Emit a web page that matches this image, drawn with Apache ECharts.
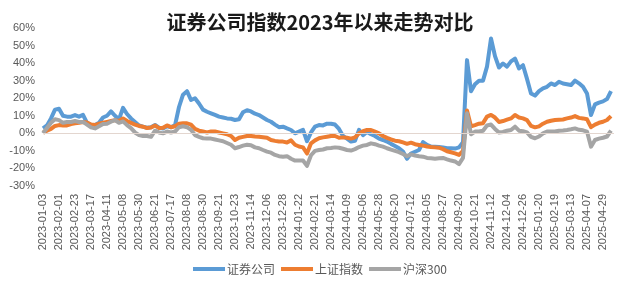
<!DOCTYPE html>
<html>
<head>
<meta charset="utf-8">
<script src="https://cdn.jsdelivr.net/npm/echarts@6/dist/echarts.min.js"></script>
<style>
html,body{margin:0;padding:0;background:#fff;}
#chart{width:640px;height:291px;}
</style>
</head>
<body>
<div id="chart"></div>
<script>
// Tick labels: one every 16 trading days
const tickLabels = ['2023-01-03','2023-02-01','2023-02-23','2023-03-17','2023-04-11','2023-05-08','2023-05-30','2023-06-21','2023-07-17','2023-08-08','2023-08-30','2023-09-21','2023-10-23','2023-11-14','2023-12-06','2023-12-28','2024-01-22','2024-02-21','2024-03-14','2024-04-09','2024-05-06','2024-05-28','2024-06-20','2024-07-12','2024-08-05','2024-08-27','2024-09-20','2024-10-21','2024-11-12','2024-12-04','2024-12-26','2025-01-20','2025-02-19','2025-03-13','2025-04-07','2025-04-29'];
const DAYS_PER_TICK = 16;
const DAYS_PER_SAMPLE = 4;   // values sampled every 4 trading days
const seriesNames = ['证券公司','上证指数','沪深300'];

// cumulative change (%) since 2023-01-03
const securities = [2.8,4.5,8.5,13.5,14,10,9.5,9.5,10.4,9.5,10.5,6,4.7,4.8,6,9,10,12.5,10,8,14.5,11,8.5,6.5,4.5,3.8,3.2,3.5,4.8,3.2,2.8,4,3.5,4.5,15,22,24,19,20,17,13.5,12.3,11.4,10.5,9.5,9,8.5,8.3,7.6,8,12,13.2,12.5,11.2,10.4,9,7.6,6.6,5,3.5,3.8,2.8,1.9,0,1,2,-4.5,0.5,3.8,4.7,4.5,5.5,5.5,5,2.5,-1.5,-3,-4.7,-4.2,2,-1,0.8,-0.5,-1.5,-3,-3.8,-4.7,-6,-7.2,-8.5,-10.4,-14.5,-11.5,-10.5,-9.5,-5,-6.6,-7.5,-7.6,-7.8,-8,-8.5,-8.5,-8.7,-8,-5,41.7,24,28,30,30,38,54,44,37.5,39.8,38,41,42.6,37,38.8,31,22.7,21.5,24,25.6,26.5,28.4,27.5,29.4,28.4,28,27.5,30,28.5,26.5,22.7,10.4,16.5,17.5,18.2,19.5,24];
const shanghai = [0.4,1.5,2.5,4.2,4.7,4.5,4.5,5.3,5.7,6,6.5,6.2,5,4.7,5.5,6,6.5,7,7.5,7,8.5,7,6,5,4.2,3.8,3,3.3,4.5,3,3.2,4.5,3.5,4,5.5,5.7,5.7,5,2.5,1.5,1,0.5,1,1,0.5,0,-0.5,-1.5,-3.8,-2.5,-2,-1.5,-1.5,-1.8,-2,-2.2,-2.5,-3.8,-4.3,-4.7,-4.7,-5.2,-4,-6.5,-7.5,-8,-11.5,-5.7,-4,-2.8,-2.3,-1.9,-1.5,-1.5,-2.5,-2.3,-2.5,-3,-2.3,0,1.2,1.9,1.9,1,0,-1.5,-2.6,-3.5,-4.2,-4.5,-5.2,-6,-5.3,-6.2,-6.6,-7,-7.5,-7.8,-8,-8.2,-9,-10.2,-10.8,-11.4,-12.3,-10,13,4,4.7,5.5,5.8,9.5,10.5,9,6.5,7,7.8,8.5,10.4,9,8.5,7.5,4.2,3.4,4,5.5,6.6,7.2,7.6,7.8,7.9,8.5,9,9.8,8.8,8.5,8,3.5,5,6,6.6,7.6,9.8];
const csi300 = [0,3,6,8,7.5,6,6.5,6.5,7,6.5,6.5,5,3.4,2.8,4,5.3,5.5,6.6,7.6,6,6.8,4.7,3,0.5,-1,-1.5,-1.5,-2,1.5,0.5,0,1,0.5,1,3.5,4,3.5,2,-1,-2,-2.8,-3,-3,-3.5,-4,-4.5,-5.5,-6.5,-8.5,-7.8,-7,-6.5,-6.8,-8,-8.5,-9.5,-10.4,-11,-12.3,-13,-13.3,-13,-14.5,-15.5,-15.5,-15.5,-18.5,-12.5,-10,-9.5,-9.2,-8.5,-8.3,-8,-8.2,-8.8,-9.5,-9.8,-9,-7.8,-7,-6.6,-5.7,-6.2,-7,-7.6,-8.5,-9.3,-10,-10.7,-11.8,-13,-12,-12.6,-13,-13.3,-14,-14.2,-14.5,-14.2,-14,-14.8,-15.5,-16,-17.5,-14,11.4,-0.5,1,1,1.5,4.5,5,2.5,0.5,0.8,1.5,1.9,3.8,1.5,1.2,0.5,-2,-2.8,-1.8,0,1,1,1,1.5,1.6,1.9,2.3,2.8,2,1.7,1,-7.6,-3.8,-3,-2.5,-1.8,1.5];

const colors = ['#5B9BD5','#ED7D31','#A5A5A5'];
const pair = arr => arr.map((v, k) => [k * DAYS_PER_SAMPLE, v]);
const lastDay = (securities.length - 1) * DAYS_PER_SAMPLE + 3;

const chart = echarts.init(document.getElementById('chart'), null, {renderer: 'canvas'});
const txt = '#595959';
const font = "'Liberation Sans', Arial, sans-serif";
const option = {
  animation: false,
  title: {
    text: '证券公司指数2023年以来走势对比',
    left: 'center',
    top: 7,
    textStyle: {fontFamily: "'Noto Sans CJK SC'", fontSize: 20, fontWeight: 'bold', color: '#1a1a1a'}
  },
  legend: {
    bottom: 11,
    left: 'center',
    itemWidth: 32,
    itemHeight: 4,
    itemGap: 6,
    icon: 'rect',
    textStyle: {fontFamily: "'Noto Sans CJK SC'", fontSize: 12, color: txt, padding: [0,0,0,-3]},
    data: seriesNames
  },
  grid: {left: 43, right: 26, top: 28, bottom: 105, containLabel: false},
  xAxis: {
    type: 'value',
    min: 0,
    max: lastDay,
    interval: DAYS_PER_TICK,
    axisLine: {show: false},
    axisTick: {show: false},
    splitLine: {show: false},
    axisLabel: {
      rotate: 90,
      margin: 8,
      fontFamily: font,
      fontSize: 11,
      color: txt,
      showMaxLabel: false,
      formatter: v => (v % DAYS_PER_TICK === 0 && tickLabels[v / DAYS_PER_TICK]) || ''
    }
  },
  yAxis: {
    type: 'value',
    min: -30,
    max: 60,
    interval: 10,
    axisLine: {show: false},
    axisTick: {show: false},
    splitLine: {show: false},
    axisLabel: {margin: 8, fontFamily: font, fontSize: 11, color: txt, formatter: '{value}%'}
  },
  series: [securities, shanghai, csi300].map((arr, s) => ({
    name: seriesNames[s],
    type: 'line',
    data: pair(arr),
    showSymbol: false,
    symbol: 'none',
    color: colors[s],
    lineStyle: {width: 4, color: colors[s], join: 'round'},
    z: 2 + s,
    markLine: s === 0 ? {
      silent: true,
      symbol: 'none',
      label: {show: false},
      lineStyle: {color: '#e3d6cf', width: 1, type: 'solid'},
      data: [{yAxis: 0}]
    } : undefined
  }))
};
chart.setOption(option);
</script>
</body>
</html>
